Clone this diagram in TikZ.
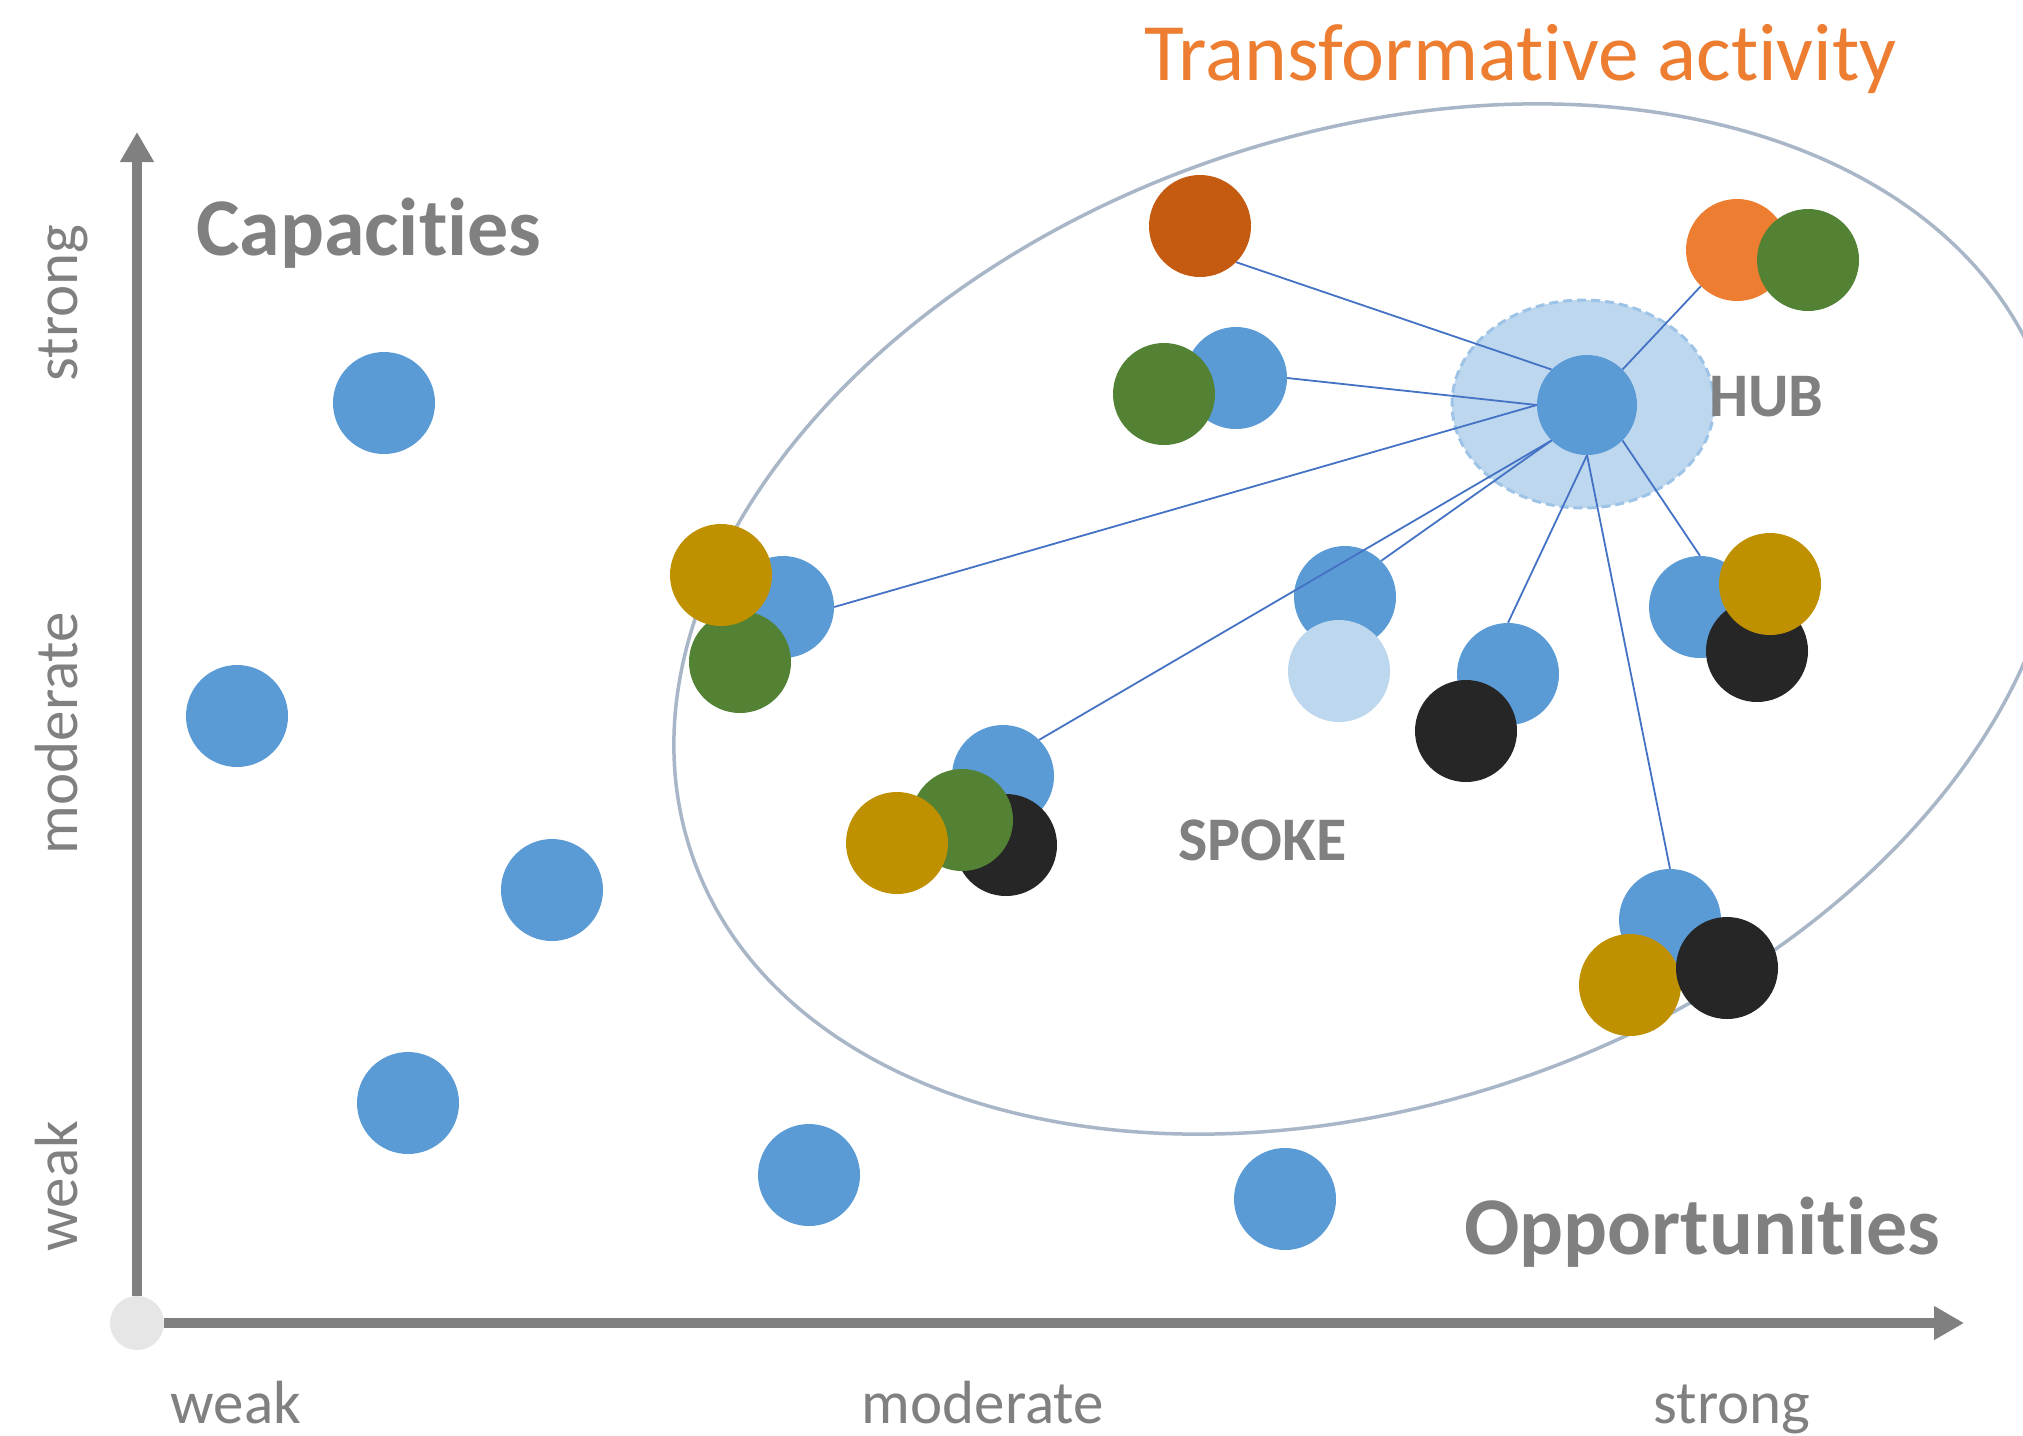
\documentclass[tikz,border=0pt]{standalone}
\usepackage{fontspec}
\setmainfont{Carlito}[Ligatures=NoCommon,RawFeature={-liga}]
\usetikzlibrary{arrows.meta}
\definecolor{cblue}{HTML}{5B9BD5}
\definecolor{clight}{HTML}{BDD7EE}
\definecolor{cgreen}{HTML}{548235}
\definecolor{cgold}{HTML}{BF9000}
\definecolor{cblack}{HTML}{262626}
\definecolor{corange}{HTML}{ED7D31}
\definecolor{cbrown}{HTML}{C55A11}
\definecolor{axisgray}{HTML}{808080}
\definecolor{ellcol}{HTML}{A9B6C8}
\definecolor{connblue}{HTML}{4472C4}
\definecolor{hubedge}{HTML}{9DC3E6}
\definecolor{origin}{HTML}{E6E6E6}
\begin{document}
\begin{tikzpicture}[x=1pt,y=-1pt,
  dot/.style={circle,minimum size=102pt,inner sep=0pt,draw=none,fill=#1},
  conn/.style={draw=connblue,line width=1.8pt},
  axisline/.style={draw=axisgray,line width=10pt},
  lab/.style={text=axisgray,inner sep=0pt,font=\fontsize{61}{70}\selectfont},
  big/.style={text=axisgray,inner sep=0pt,font=\bfseries\fontsize{82}{98}\selectfont},
  mid/.style={text=axisgray,inner sep=0pt,font=\bfseries\fontsize{62}{72}\selectfont},
]
\useasboundingbox (0,0) rectangle (2023,1435);
\fill[white] (0,0) rectangle (2023,1435);

% axes
\node[circle,fill=origin,minimum size=54pt,inner sep=0pt] (o) at (137,1323) {};
\coordinate (ytip) at (137,132);
\coordinate (xtip) at (1964,1323);
\draw[axisline,-{Triangle[width=32pt,length=30pt]}] (o.north) -- (ytip);
\draw[axisline,-{Triangle[width=32pt,length=30pt]}] (o.east) -- (xtip);

% axis labels
\node[lab,rotate=90,anchor=base] (ys) at (77,303) {strong};
\node[lab,rotate=90,anchor=base] (ym) at (77,733) {moderate};
\node[lab,rotate=90,anchor=base] (yw) at (77,1186) {weak};
\node[lab,anchor=base] (xw) at (236,1423) {weak};
\node[lab,anchor=base] (xm) at (983,1423) {moderate};
\node[lab,anchor=base] (xs) at (1732,1423) {strong};

\node[big,anchor=base west] (cap) at (196,255) {Capacities};
\node[big,anchor=base west] (opp) at (1464,1254) {Opportunities};
\node[text=corange,inner sep=0pt,anchor=base west,font=\fontsize{81.5}{96}\selectfont] (ta) at (1144,80) {Transformative activity};

% big ellipse
\draw[ellcol,line width=3.5pt,rotate around={19.5:(1368,619)}] (1368,619) ellipse [x radius=716pt, y radius=484pt];

% hub ellipse
\draw[hubedge,fill=clight,line width=3pt,dash pattern=on 9pt off 5pt] (1583,404) ellipse [x radius=131pt, y radius=104pt];

\node[mid,anchor=base west] (hubl) at (1709,416) {HUB};
\node[mid,anchor=base west] (spokel) at (1178,860) {SPOKE};

% standalone blue dots
\node[dot=cblue] (b1) at (384,403) {};
\node[dot=cblue] (b2) at (237,716) {};
\node[dot=cblue] (b3) at (552,890) {};
\node[dot=cblue] (b4) at (408,1103) {};
\node[dot=cblue] (b5) at (809,1175) {};
\node[dot=cblue] (b6) at (1285,1199) {};

% top
\node[dot=cbrown] (br) at (1200,226) {};
\node[dot=cblue] (pb) at (1236,378) {};
\node[dot=cgreen] (pg) at (1164,394) {};
\node[dot=cblue,minimum size=100pt] (hub) at (1587,405) {};
\node[dot=corange] (to) at (1737,250) {};
\node[dot=cgreen] (tg) at (1808,260) {};

% left cluster
\node[dot=cblue] (lb) at (783,607) {};
\node[dot=cgreen] (lg) at (740,662) {};
\node[dot=cgold] (ly) at (721,575) {};

% middle-left cluster
\node[dot=cblue] (mb) at (1003,776) {};
\node[dot=cblack] (mk) at (1006,845) {};
\node[dot=cgreen] (mg) at (962,820) {};
\node[dot=cgold] (my) at (897,843) {};

% mid
\node[dot=cblue] (cb) at (1345,597) {};
\node[dot=clight] (cl) at (1339,671) {};

% mid2
\node[dot=cblue] (db) at (1508,674) {};
\node[dot=cblack] (dk) at (1466,731) {};

% right
\node[dot=cblue] (rb) at (1700,607) {};
\node[dot=cblack] (rk) at (1757,651) {};
\node[dot=cgold] (ry) at (1770,584) {};

% bottom right
\node[dot=cblue] (eb) at (1670,920) {};
\node[dot=cgold] (ey) at (1630,985) {};
\node[dot=cblack] (ek) at (1727,968) {};

% connectors
\draw[conn] (hub.north west) -- (br.south east);
\draw[conn] (hub.west) -- (pb.east);
\draw[conn] (hub.west) -- (lb.east);
\draw[conn] (hub.south west) -- (mb.north east);
\draw[conn] (hub.south west) -- (cb.north east);
\draw[conn] (hub.south) -- (db.north);
\draw[conn] (hub.south) -- (eb.north);
\draw[conn] (hub.south east) -- (rb.north);
\draw[conn] (hub.north east) -- (to.south west);
\end{tikzpicture}
\end{document}
